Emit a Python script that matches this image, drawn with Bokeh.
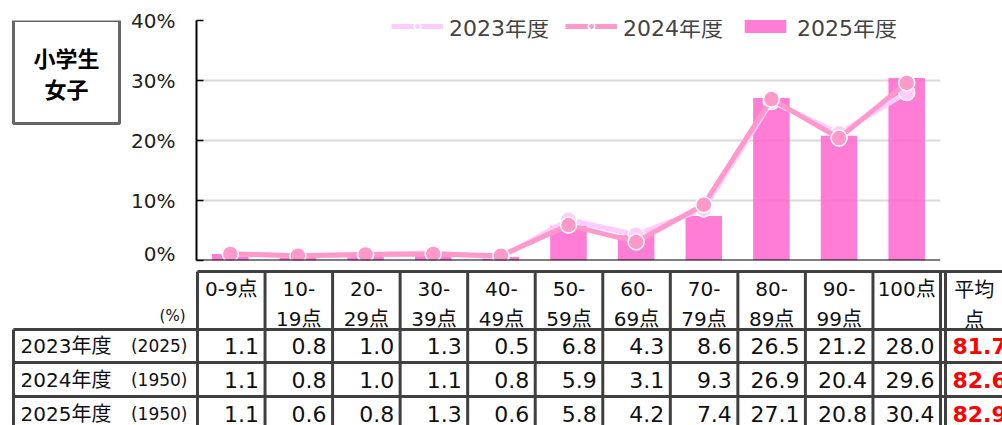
from bokeh.plotting import figure
from bokeh.models import Range1d, Span, Legend, LegendItem, ColumnDataSource, FixedTicker, PrintfTickFormatter
from bokeh.layouts import column, row
from bokeh.core.properties import value
from bokeh.embed import file_html
from bokeh.resources import INLINE

# ---------------- data ----------------
bins = ["0-9点", "10-19点", "20-29点", "30-39点", "40-49点", "50-59点",
        "60-69点", "70-79点", "80-89点", "90-99点", "100点"]
header_top = ["0-9点", "10-", "20-", "30-", "40-", "50-", "60-", "70-", "80-", "90-", "100点"]
header_bottom = ["", "19点", "29点", "39点", "49点", "59点", "69点", "79点", "89点", "99点", ""]
years = ["2023年度", "2024年度", "2025年度"]
counts = ["(2025)", "(1950)", "(1950)"]
v2023 = [1.1, 0.8, 1.0, 1.3, 0.5, 6.8, 4.3, 8.6, 26.5, 21.2, 28.0]
v2024 = [1.1, 0.8, 1.0, 1.1, 0.8, 5.9, 3.1, 9.3, 26.9, 20.4, 29.6]
v2025 = [1.1, 0.6, 0.8, 1.3, 0.6, 5.8, 4.2, 7.4, 27.1, 20.8, 30.4]
averages = [81.7, 82.6, 82.9]
y_ticks = [0, 10, 20, 30, 40]

LATIN = "DejaVu Sans, Noto Sans CJK JP"
CJK = "Noto Sans CJK JP"
C2023 = "#FFCCFF"
C2024 = "#FF99CC"
C2025 = "#FF66CC"
BORDER = "#404040"

xs = list(range(len(bins)))
TOP_H = 265

# ---------------- label box ----------------
# frame of this figure is aligned with the chart frame (page y 20..260)
box = figure(width=128, height=TOP_H, x_range=Range1d(0, 128), y_range=Range1d(260, 20),
             output_backend="svg", toolbar_location=None, min_border=0,
             min_border_top=20, min_border_bottom=5,
             x_axis_location=None, y_axis_location=None)
box.grid.visible = False
box.outline_line_color = None
box.quad(left=[13], right=[119], top=[20], bottom=[123], fill_color="white",
         line_color="#666666", line_width=3)
box.text(x=[66, 66], y=[56, 87], text=["小学生", "女子"], text_align="center",
         text_baseline="middle", text_font=value(CJK), text_font_style="bold",
         text_font_size="22px", text_color="black")

# ---------------- chart ----------------
p = figure(width=874, height=TOP_H, x_range=Range1d(-0.5, 10.5), y_range=Range1d(0, 40),
           output_backend="svg", toolbar_location=None,
           min_border_left=67, min_border_right=62, min_border_top=20, min_border_bottom=5,
           x_axis_location=None)
p.outline_line_color = None
p.xgrid.visible = False
p.ygrid.grid_line_color = "#d9d9d9"
p.ygrid.grid_line_width = 2
p.yaxis.ticker = FixedTicker(ticks=y_ticks)
p.yaxis.formatter = PrintfTickFormatter(format="%d%%")
p.yaxis.axis_line_color = "black"
p.yaxis.axis_line_width = 2
p.yaxis.major_tick_in = 7
p.yaxis.major_tick_out = 0
p.yaxis.major_tick_line_color = "black"
p.yaxis.major_tick_line_width = 1.5
p.yaxis.minor_tick_line_color = None
p.yaxis.major_label_standoff = 21
p.yaxis.major_label_text_font = LATIN
p.yaxis.major_label_text_font_size = "20px"
p.yaxis.major_label_text_color = "#222222"

src = ColumnDataSource(dict(x=xs, v2023=v2023, v2024=v2024, v2025=v2025))
bars = p.vbar(x="x", top="v2025", width=0.54, source=src, fill_color=C2025,
              fill_alpha=0.85, line_color=None)
l23 = p.line(x="x", y="v2023", source=src, line_color=C2023, line_width=5)
m23 = p.scatter(x="x", y="v2023", source=src, size=16, fill_color=C2023,
                line_color="white", line_width=1.5)
l24 = p.line(x="x", y="v2024", source=src, line_color=C2024, line_width=5)
m24 = p.scatter(x="x", y="v2024", source=src, size=16, fill_color=C2024,
                line_color="white", line_width=1.5)
p.add_layout(Span(location=0, dimension="width", line_color="black", line_width=2))

legend = Legend(items=[LegendItem(label=years[0], renderers=[l23, m23]),
                       LegendItem(label=years[1], renderers=[l24, m24]),
                       LegendItem(label=years[2], renderers=[bars])],
                orientation="horizontal", location=(195, 218),
                label_text_font=LATIN, label_text_font_size="22px",
                glyph_width=52, glyph_height=16, label_standoff=6, spacing=16,
                padding=2, margin=0, border_line_color=None,
                background_fill_color="white", background_fill_alpha=1.0)
p.add_layout(legend)

# ---------------- table ----------------
COLW = 743 / 11.0
x_start = -0.5 - 197 / COLW
x_end = -0.5 + (1002 - 197) / COLW
T_H = 425 - TOP_H
t = figure(width=1002, height=T_H, x_range=Range1d(x_start, x_end), y_range=Range1d(T_H, 0),
           output_backend="svg", toolbar_location=None, min_border=0,
           x_axis_location=None, y_axis_location=None)
t.grid.visible = False
t.outline_line_color = None

left_edge = -0.5 - 184 / COLW
row_y = [80.5, 114, 148]
# vertical lines
vx = [-0.5 + k for k in range(12)] + [10.5 + 5 / COLW]
t.segment(x0=vx, y0=[6] * len(vx), x1=vx, y1=[T_H] * len(vx), line_color=BORDER, line_width=3)
t.segment(x0=[left_edge], y0=[64], x1=[left_edge], y1=[T_H], line_color=BORDER, line_width=3)
# horizontal lines
t.segment(x0=[-0.5, left_edge, left_edge, left_edge], y0=[6, 64, 97, 131],
          x1=[x_end] * 4, y1=[6, 64, 97, 131], line_color=BORDER, line_width=3)

# header
t.text(x=xs, y=[23] * 11, text=header_top, text_align="center", text_baseline="middle",
       text_font=value(LATIN), text_font_size="20px", text_color="#111111")
t.text(x=xs, y=[53] * 11, text=header_bottom, text_align="center", text_baseline="middle",
       text_font=value(LATIN), text_font_size="20px", text_color="#111111")
avg_x = 11
t.text(x=[avg_x], y=[23], text=["平均"], text_align="center",
       text_baseline="middle", text_font=value(CJK), text_font_size="20px", text_color="#111111")
t.text(x=[avg_x], y=[53], text=["点"], text_align="center",
       text_baseline="middle", text_font=value(CJK), text_font_size="20px", text_color="#111111")
t.text(x=[-0.5], y=[50], x_offset=-12, text=["(%)"], text_align="right", text_baseline="middle",
       text_font=value(LATIN), text_font_size="15px", text_color="#111111")

# row labels
t.text(x=[-0.5] * 3, y=row_y, x_offset=-177, text=years, text_align="left",
       text_baseline="middle", text_font=value(LATIN), text_font_size="20px", text_color="#111111")
t.text(x=[-0.5] * 3, y=row_y, x_offset=-10, text=counts, text_align="right",
       text_baseline="middle", text_font=value(LATIN), text_font_size="17px", text_color="#111111")

# values
for series, yy in zip([v2023, v2024, v2025], row_y):
    t.text(x=[c + 0.5 for c in xs], y=[yy] * 11, x_offset=-6,
           text=[f"{v:.1f}" for v in series], text_align="right", text_baseline="middle",
           text_font=value(LATIN), text_font_size="22px", text_color="#111111")
t.text(x=[10.5] * 3, y=row_y, x_offset=12, text=[f"{a:.1f}" for a in averages],
       text_align="left", text_baseline="middle", text_font=value("DejaVu Sans"),
       text_font_style="bold", text_font_size="22px", text_color="#FF0000")

layout = column(row(box, p, spacing=0), t, spacing=0)
open("out.html", "w").write(file_html(layout, INLINE))
